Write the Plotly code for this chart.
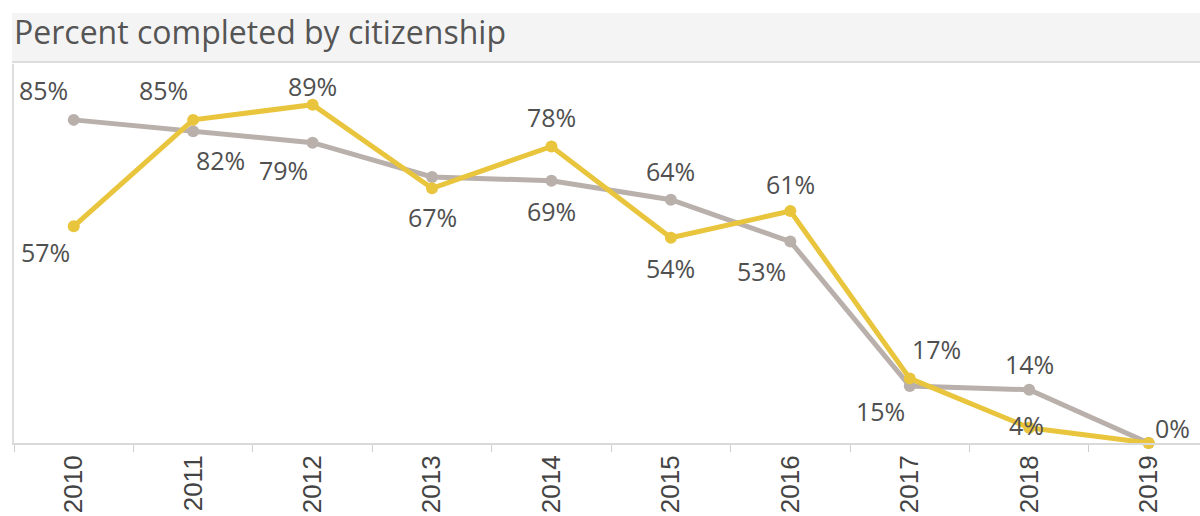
import plotly.graph_objects as go

# --- data -------------------------------------------------------------
years = ["2010", "2011", "2012", "2013", "2014", "2015", "2016", "2017", "2018", "2019"]
pct_gray = [85, 82, 79, 70, 69, 64, 53, 15, 14, 0]
pct_yellow = [57, 85, 89, 67, 78, 54, 61, 17, 4, 0]

# label placement (pixel offsets from each point); None = no label drawn
gray_offsets = [(-30, 30), (27, -29), (-29, -27), None, (0, -30),
                (0, 29), (-29, -29), (-29, -25), (0, 26), (24, 15)]
yellow_offsets = [(-28, -26), (-30, 30), (0, 19), (0, -29), (0, 29),
                  (0, -30), (0, 27), (27, 29), (-3, 3), None]

GRAY = "#b9b0ab"
YELLOW = "#e9c53d"
LABEL_COLOR = "#505050"

# --- page geometry ----------------------------------------------------
W, H = 1200, 516
M_L, M_R, M_T, M_B = 14, 0, 64, 73
plot_h = H - M_T - M_B
plot_w = W - M_L - M_R


def py_to_paper(py):
    return (H - M_B - py) / plot_h


def px_to_paper(px):
    return (px - M_L) / plot_w


fig = go.Figure()

for vals, color in [(pct_gray, GRAY), (pct_yellow, YELLOW)]:
    fig.add_trace(go.Scatter(
        x=years, y=vals, mode="lines+markers",
        line=dict(color=color, width=5),
        marker=dict(color=color, size=12),
        cliponaxis=False, hoverinfo="skip", showlegend=False,
    ))

annotations = []
for vals, offsets in [(pct_gray, gray_offsets), (pct_yellow, yellow_offsets)]:
    for i, (v, off) in enumerate(zip(vals, offsets)):
        if off is None:
            continue
        # category axis: annotation x is the category index
        annotations.append(dict(
            x=i, y=v, xref="x", yref="y", text=f"{v}%", showarrow=False,
            xshift=off[0], yshift=off[1],
            font=dict(family="Open Sans", size=25, color=LABEL_COLOR),
        ))

# title in the header band
annotations.append(dict(
    x=px_to_paper(12), y=py_to_paper(32), xref="paper", yref="paper",
    xanchor="left", yanchor="middle", showarrow=False,
    text="Percent completed by citizenship",
    font=dict(family="Open Sans", size=32, color="#555555"),
))

shapes = [
    # header band
    dict(type="rect", xref="paper", yref="paper",
         x0=px_to_paper(12), x1=1.0, y0=py_to_paper(61), y1=py_to_paper(13),
         fillcolor="#f4f4f4", line=dict(width=0), layer="below"),
    # header bottom rule
    dict(type="line", xref="paper", yref="paper",
         x0=px_to_paper(12), x1=1.0, y0=py_to_paper(62), y1=py_to_paper(62),
         line=dict(color="#dcdcdc", width=2)),
]

fig.update_layout(
    width=W, height=H,
    margin=dict(l=M_L, r=M_R, t=M_T, b=M_B, pad=0),
    paper_bgcolor="white", plot_bgcolor="white",
    annotations=annotations, shapes=shapes,
    xaxis=dict(
        type="category", range=[-0.5, 9.43],
        tickson="boundaries", ticks="outside", ticklen=7,
        tickcolor="#cfcfcf", tickwidth=1,
        showline=True, linecolor="#d9d9d9", linewidth=2,
        showgrid=False, zeroline=False, tickangle=-90,
        tickfont=dict(family="Liberation Sans", size=26, color="#444444"),
        fixedrange=True,
    ),
    yaxis=dict(
        range=[0, 99.7], showticklabels=False, ticks="",
        showgrid=False, zeroline=False,
        showline=True, linecolor="#dedede", linewidth=2,
        fixedrange=True,
    ),
)

fig.write_html("out.html", config={"displayModeBar": False})
